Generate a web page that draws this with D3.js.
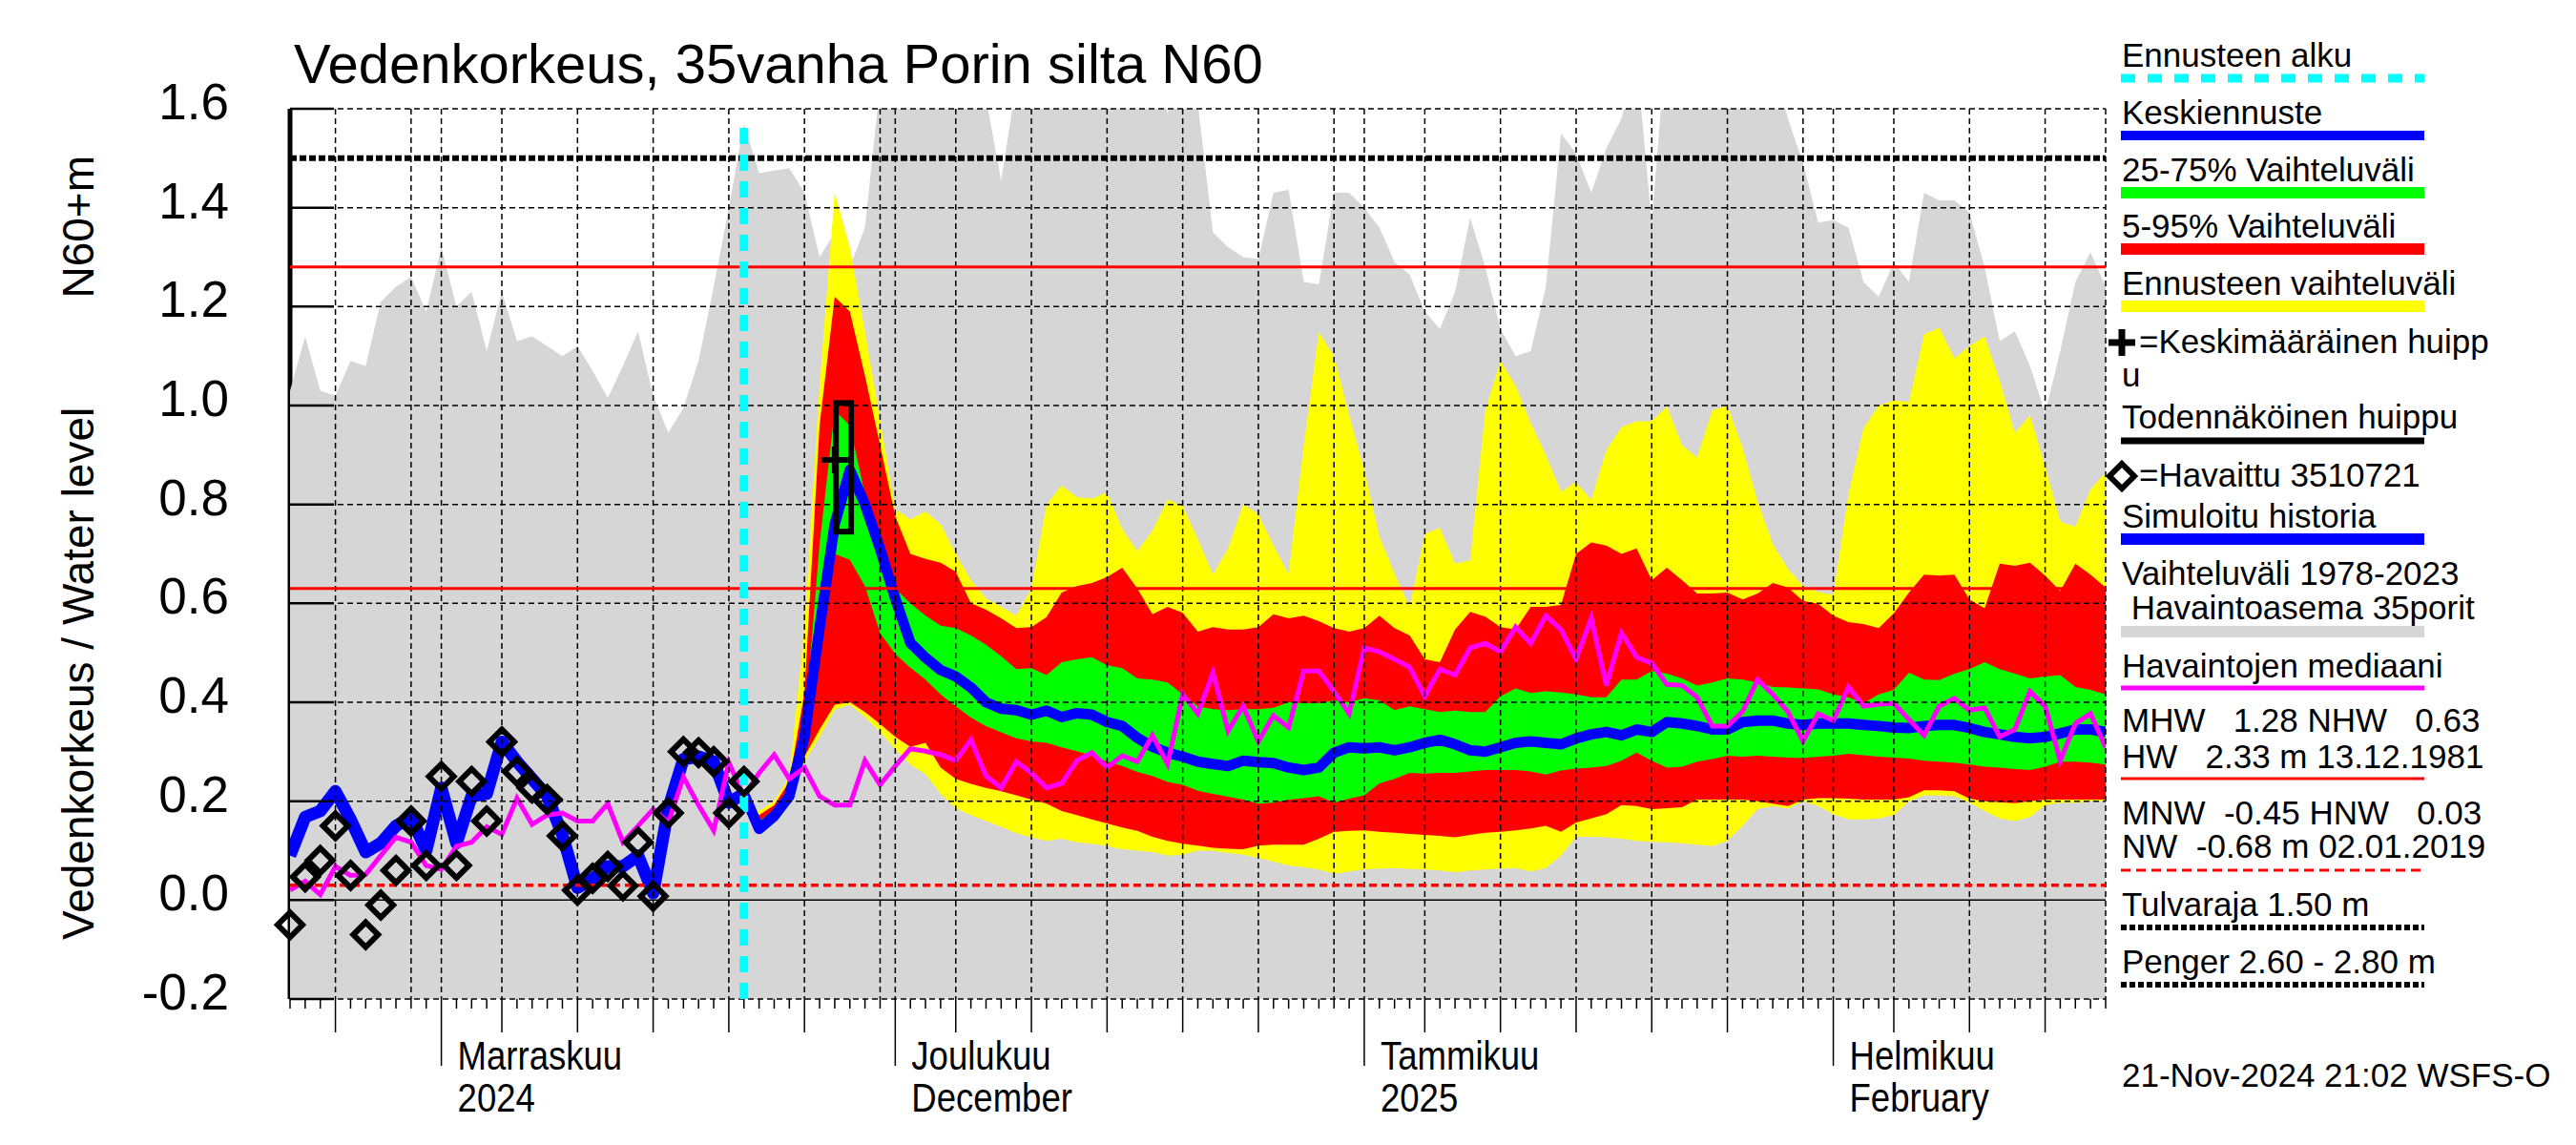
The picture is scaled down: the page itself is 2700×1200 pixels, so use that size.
<!DOCTYPE html>
<html>
<head>
<meta charset="utf-8">
<script src="https://cdn.jsdelivr.net/npm/d3@7"></script>
<style>
  body { margin: 0; background: #fff; }
  svg { display: block; }
  text { font-family: "Liberation Sans", Arial, Helvetica, sans-serif; fill: #000; }
</style>
</head>
<body>
<svg id="chart" width="2700" height="1200"></svg>
<script>
// time frame
const startDay = new Date(Date.UTC(2024, 9, 22));
const endDay = new Date(Date.UTC(2025, 1, 19));
const forecastStart = new Date(Date.UTC(2024, 10, 21));
const fcOffset = 30; // forecast series begin 30 days after startDay

// observed levels (diamonds), daily from startDay
const observed = [-0.05, 0.047, 0.08, 0.15, 0.05, -0.07, -0.01, 0.06, 0.16, 0.07,
  0.25, 0.07, 0.24, 0.16, 0.32, 0.26, 0.227, 0.203, 0.13, 0.02,
  0.044, 0.068, 0.029, 0.117, 0.008, 0.176, 0.30, 0.298, 0.28, 0.176,
  0.24];

// simulated history
const simulated = [0.09, 0.168, 0.18, 0.22, 0.163, 0.097, 0.115, 0.15, 0.168, 0.10,
  0.227, 0.115, 0.21, 0.215, 0.32, 0.28, 0.245, 0.21, 0.132, 0.025,
  0.043, 0.068, 0.068, 0.09, 0.014, 0.185, 0.285, 0.29, 0.28, 0.197,
  0.215];

// median of observations 1978-2023
const median = [0.02, 0.038, 0.011, 0.068, 0.05, 0.052, 0.09, 0.127, 0.117, 0.07,
  0.062, 0.109, 0.117, 0.148, 0.133, 0.206, 0.153, 0.172, 0.176, 0.16,
  0.16, 0.195, 0.117, 0.15, 0.184, 0.157, 0.249, 0.192, 0.141, 0.278,
  0.21, 0.257, 0.294, 0.245, 0.268, 0.21, 0.192, 0.192, 0.282, 0.233,
  0.271, 0.306, 0.301, 0.294, 0.282, 0.324, 0.251, 0.227, 0.28, 0.257,
  0.227, 0.236, 0.282, 0.298, 0.268, 0.292, 0.28, 0.333, 0.275, 0.416,
  0.377, 0.46, 0.342, 0.392, 0.321, 0.373, 0.349, 0.463, 0.463, 0.422,
  0.377, 0.51, 0.502, 0.487, 0.471, 0.412, 0.467, 0.455, 0.51, 0.519,
  0.502, 0.552, 0.519, 0.575, 0.547, 0.487, 0.57, 0.434, 0.54, 0.491,
  0.479, 0.436, 0.434, 0.41, 0.352, 0.352, 0.381, 0.446, 0.416, 0.381,
  0.321, 0.377, 0.363, 0.431, 0.392, 0.396, 0.398, 0.365, 0.333, 0.392,
  0.408, 0.384, 0.389, 0.33, 0.345, 0.422, 0.392, 0.282, 0.357, 0.377,
  0.309];

// historical maximum 1978-2023 (grey band top)
const histMax = [1.03, 1.14, 1.03, 1.02, 1.09, 1.08, 1.21, 1.24, 1.26, 1.19,
  1.32, 1.20, 1.23, 1.11, 1.23, 1.13, 1.14, 1.12, 1.10, 1.12,
  1.07, 1.015, 1.08, 1.15, 1.02, 0.945, 0.995, 1.09, 1.24, 1.40,
  1.57, 1.47, 1.475, 1.48, 1.43, 1.30, 1.35, 1.28, 1.36, 1.65,
  1.75, 1.75, 1.75, 1.75, 1.75, 1.75, 1.62, 1.455, 1.65, 1.75,
  1.75, 1.75, 1.75, 1.75, 1.75, 1.75, 1.75, 1.75, 1.59, 1.75,
  1.61, 1.35, 1.32, 1.30, 1.296, 1.43, 1.436, 1.25, 1.245, 1.43,
  1.43, 1.40, 1.36, 1.29, 1.265, 1.19, 1.155, 1.23, 1.38, 1.28,
  1.155, 1.10, 1.11, 1.24, 1.55, 1.51, 1.43, 1.52, 1.58, 1.70,
  1.37, 1.75, 1.75, 1.75, 1.75, 1.75, 1.75, 1.75, 1.70, 1.58,
  1.49, 1.37, 1.375, 1.36, 1.25, 1.22, 1.29, 1.25, 1.43, 1.415,
  1.415, 1.39, 1.28, 1.13, 1.15, 1.08, 0.985, 1.11, 1.25, 1.31,
  1.24];

// forecast, daily from forecastStart
const fcMean = [0.215, 0.144, 0.17, 0.21, 0.33, 0.55, 0.76, 0.87, 0.80, 0.71,
  0.61, 0.52, 0.49, 0.465, 0.452, 0.43, 0.40, 0.387, 0.384, 0.375,
  0.383, 0.37, 0.378, 0.375, 0.36, 0.352, 0.328, 0.31, 0.298, 0.29,
  0.28, 0.275, 0.271, 0.282, 0.279, 0.277, 0.268, 0.263, 0.268, 0.298,
  0.309, 0.307, 0.309, 0.303, 0.309, 0.318, 0.324, 0.315, 0.303, 0.30,
  0.309, 0.318, 0.321, 0.318, 0.315, 0.327, 0.335, 0.34, 0.333, 0.345,
  0.34, 0.36, 0.357, 0.352, 0.345, 0.345, 0.36, 0.363, 0.363, 0.357,
  0.354, 0.357, 0.357, 0.357, 0.354, 0.352, 0.349, 0.348, 0.352, 0.354,
  0.354, 0.348, 0.34, 0.335, 0.33, 0.327, 0.33, 0.337, 0.345, 0.345,
  0.34];

const fcMax = [0.21, 0.18, 0.2, 0.25, 0.55, 1.04, 1.43, 1.32, 1.15, 0.97,
  0.79, 0.77, 0.786, 0.76, 0.70, 0.647, 0.61, 0.593, 0.575, 0.63,
  0.80, 0.838, 0.815, 0.812, 0.824, 0.75, 0.706, 0.747, 0.81, 0.797,
  0.73, 0.658, 0.711, 0.80, 0.78, 0.717, 0.66, 0.92, 1.148, 1.10,
  0.98, 0.87, 0.735, 0.66, 0.593, 0.74, 0.753, 0.68, 0.687, 0.99,
  1.09, 1.04, 0.965, 0.90, 0.826, 0.845, 0.809, 0.91, 0.956, 0.968,
  0.968, 0.998, 0.92, 0.895, 0.99, 1.0, 0.915, 0.806, 0.72, 0.67,
  0.635, 0.623, 0.617, 0.82, 0.954, 1.0, 1.01, 1.007, 1.144, 1.157,
  1.095, 1.12, 1.14, 1.05, 0.944, 0.98, 0.877, 0.765, 0.755, 0.83,
  0.865];

const fcMin = [0.21, 0.135, 0.16, 0.2, 0.28, 0.33, 0.385, 0.395, 0.37, 0.34,
  0.305, 0.274, 0.255, 0.215, 0.186, 0.172, 0.16, 0.148, 0.135, 0.127,
  0.12, 0.124, 0.117, 0.114, 0.109, 0.103, 0.1, 0.097, 0.09, 0.092,
  0.1, 0.1, 0.095, 0.092, 0.085, 0.078, 0.07, 0.066, 0.062, 0.053,
  0.058, 0.062, 0.064, 0.065, 0.063, 0.062, 0.06, 0.056, 0.06, 0.062,
  0.064, 0.065, 0.058, 0.065, 0.09, 0.128, 0.128, 0.127, 0.124, 0.12,
  0.118, 0.117, 0.115, 0.112, 0.109, 0.12, 0.15, 0.184, 0.19, 0.185,
  0.2, 0.19, 0.174, 0.163, 0.163, 0.165, 0.172, 0.2, 0.212, 0.212,
  0.21, 0.197, 0.18, 0.165, 0.16, 0.168, 0.192, 0.197, 0.197, 0.2,
  0.2];

const fcP95 = [0.21, 0.172, 0.192, 0.24, 0.42, 0.96, 1.22, 1.19, 1.06, 0.92,
  0.776, 0.70, 0.69, 0.682, 0.664, 0.60, 0.587, 0.57, 0.55, 0.552,
  0.572, 0.622, 0.635, 0.641, 0.653, 0.672, 0.63, 0.578, 0.593, 0.581,
  0.543, 0.552, 0.547, 0.547, 0.552, 0.578, 0.57, 0.575, 0.564, 0.55,
  0.543, 0.55, 0.575, 0.55, 0.535, 0.487, 0.481, 0.547, 0.583, 0.573,
  0.552, 0.547, 0.593, 0.593, 0.597, 0.70, 0.723, 0.717, 0.70, 0.711,
  0.647, 0.672, 0.647, 0.62, 0.62, 0.622, 0.608, 0.62, 0.641, 0.632,
  0.605, 0.599, 0.575, 0.562, 0.558, 0.55, 0.58, 0.622, 0.658, 0.656,
  0.658, 0.608, 0.59, 0.68, 0.676, 0.682, 0.656, 0.625, 0.68, 0.658,
  0.632];

const fcP5 = [0.21, 0.138, 0.165, 0.205, 0.29, 0.345, 0.395, 0.40, 0.38, 0.356,
  0.33, 0.31, 0.318, 0.268, 0.245, 0.235, 0.227, 0.22, 0.212, 0.203,
  0.195, 0.18, 0.172, 0.163, 0.155, 0.147, 0.14, 0.128, 0.12, 0.114,
  0.11, 0.106, 0.104, 0.103, 0.11, 0.112, 0.112, 0.112, 0.124, 0.138,
  0.14, 0.141, 0.138, 0.136, 0.134, 0.132, 0.13, 0.127, 0.132, 0.136,
  0.138, 0.141, 0.145, 0.15, 0.138, 0.157, 0.165, 0.174, 0.192, 0.19,
  0.184, 0.186, 0.188, 0.203, 0.203, 0.203, 0.203, 0.2, 0.195, 0.19,
  0.203, 0.206, 0.206, 0.205, 0.203, 0.203, 0.203, 0.208, 0.222, 0.222,
  0.22, 0.205, 0.2, 0.198, 0.196, 0.2, 0.203, 0.203, 0.203, 0.203,
  0.203];

const fcP75 = [0.21, 0.16, 0.182, 0.228, 0.35, 0.72, 0.99, 0.96, 0.82, 0.72,
  0.63, 0.60, 0.575, 0.555, 0.55, 0.535, 0.516, 0.493, 0.467, 0.469,
  0.455, 0.481, 0.487, 0.491, 0.475, 0.469, 0.448, 0.446, 0.44, 0.416,
  0.392, 0.386, 0.384, 0.386, 0.386, 0.389, 0.40, 0.398, 0.398, 0.404,
  0.40, 0.408, 0.404, 0.384, 0.392, 0.386, 0.38, 0.383, 0.38, 0.38,
  0.412, 0.428, 0.419, 0.422, 0.42, 0.416, 0.41, 0.41, 0.446, 0.446,
  0.463, 0.458, 0.448, 0.434, 0.44, 0.448, 0.446, 0.44, 0.431, 0.43,
  0.428, 0.426, 0.416, 0.41, 0.398, 0.416, 0.425, 0.46, 0.446, 0.445,
  0.458, 0.467, 0.481, 0.467, 0.458, 0.448, 0.452, 0.455, 0.431, 0.425,
  0.416];

const fcP25 = [0.21, 0.142, 0.168, 0.21, 0.31, 0.5, 0.7, 0.688, 0.635, 0.54,
  0.498, 0.47, 0.446, 0.416, 0.392, 0.369, 0.352, 0.339, 0.327, 0.321,
  0.318, 0.309, 0.301, 0.292, 0.28, 0.271, 0.259, 0.251, 0.239, 0.233,
  0.221, 0.215, 0.209, 0.203, 0.195, 0.197, 0.203, 0.206, 0.21, 0.197,
  0.205, 0.212, 0.236, 0.245, 0.257, 0.256, 0.257, 0.257, 0.26, 0.263,
  0.263, 0.263, 0.26, 0.254, 0.262, 0.266, 0.268, 0.271, 0.282, 0.298,
  0.282, 0.268, 0.27, 0.28, 0.285, 0.292, 0.29, 0.292, 0.29, 0.288,
  0.287, 0.29, 0.292, 0.296, 0.293, 0.29, 0.288, 0.286, 0.282, 0.28,
  0.278, 0.274, 0.27, 0.268, 0.265, 0.263, 0.27, 0.28, 0.28, 0.278,
  0.274];

// probable peak (box) and mean peak (cross)
const peakBox = { from: new Date(Date.UTC(2024, 10, 27, 2)), to: new Date(Date.UTC(2024, 10, 28, 2)), low: 0.745, high: 1.005 };
const meanPeak = { date: new Date(Date.UTC(2024, 10, 27)), value: 0.89 };

// reference levels
const levelMHW = 1.28, levelNHW = 0.63, levelHNW = 0.03, levelFlood = 1.5;
const cyanTop = 1.575;

// axis labels
const yTicks = [-0.2, 0.0, 0.2, 0.4, 0.6, 0.8, 1.0, 1.2, 1.4, 1.6];
const monthStarts = [new Date(Date.UTC(2024, 10, 1)), new Date(Date.UTC(2024, 11, 1)),
  new Date(Date.UTC(2025, 0, 1)), new Date(Date.UTC(2025, 1, 1))];
const monthNames = ["Marraskuu", "Joulukuu", "Tammikuu", "Helmikuu"];
const monthSub = ["2024", "December", "2025", "February"];

function draw() {
  const left = 304, right = 2207, top = 114, bottom = 1047;
  const svg = d3.select("#chart");

  const x = d3.scaleUtc().domain([startDay, endDay]).range([left, right]);
  const y = d3.scaleLinear().domain([-0.2, 1.6]).range([bottom, top]);
  const day = i => d3.utcDay.offset(startDay, i);

  svg.append("defs").append("clipPath").attr("id", "plot")
    .append("rect").attr("x", left).attr("y", top)
    .attr("width", right - left).attr("height", bottom - top);

  const hist = median.map((v, i) => ({ date: day(i), median: v, max: histMax[i] }));
  const past = observed.map((v, i) => ({ date: day(i), obs: v, sim: simulated[i] }));
  const fc = fcMean.map((v, i) => ({
    date: day(fcOffset + i), mean: v, min: fcMin[i], max: fcMax[i],
    p5: fcP5[i], p95: fcP95[i], p25: fcP25[i], p75: fcP75[i]
  }));

  // left axis line, partly covered by the grey band
  svg.append("line").attr("x1", left).attr("x2", left).attr("y1", top).attr("y2", bottom)
    .attr("stroke", "#000").attr("stroke-width", 5);

  const g = svg.append("g").attr("clip-path", "url(#plot)");

  // historical range
  g.append("path").datum(hist)
    .attr("fill", "#d6d6d6")
    .attr("d", d3.area().x(d => x(d.date)).y0(y(-0.2)).y1(d => y(d.max)));

  // forecast bands
  const band = (lo, hi, color) => g.append("path").datum(fc).attr("fill", color)
    .attr("d", d3.area().x(d => x(d.date)).y0(d => y(d[lo])).y1(d => y(d[hi])));
  band("min", "max", "#ffff00");
  band("p5", "p95", "#ff0000");
  band("p25", "p75", "#00ff00");

  // grid
  const gridDays = d3.utcDay.range(day(1), endDay)
    .filter(d => d.getUTCDate() === 1 || d.getUTCDate() % 5 === 0);
  gridDays.push(endDay);
  svg.append("g").selectAll("line").data(gridDays).join("line")
    .attr("x1", d => x(d)).attr("x2", d => x(d)).attr("y1", top).attr("y2", bottom)
    .attr("stroke", "#000").attr("stroke-width", 1.5).attr("stroke-dasharray", "6,4");
  svg.append("g").selectAll("line").data(yTicks).join("line")
    .attr("x1", left).attr("x2", right).attr("y1", d => y(d)).attr("y2", d => y(d))
    .attr("stroke", "#000").attr("stroke-width", 1.5)
    .attr("stroke-dasharray", d => d === 0 ? null : "6,4");
  // inward y ticks
  svg.append("g").selectAll("line").data(yTicks).join("line")
    .attr("x1", left).attr("x2", left + 46).attr("y1", d => y(d)).attr("y2", d => y(d))
    .attr("stroke", "#000").attr("stroke-width", 2.5);

  // reference levels
  const hline = (v, color, w, dash) => svg.append("line")
    .attr("x1", left).attr("x2", right).attr("y1", y(v)).attr("y2", y(v))
    .attr("stroke", color).attr("stroke-width", w).attr("stroke-dasharray", dash);
  hline(levelMHW, "#ff0000", 3, null);
  hline(levelNHW, "#ff0000", 3, null);
  hline(levelHNW, "#ff0000", 3.5, "8,5");
  hline(levelFlood, "#000", 6, "7,3");

  // blue lines
  g.append("path").datum(past)
    .attr("fill", "none").attr("stroke", "#0000ff").attr("stroke-width", 13).attr("stroke-linejoin", "round")
    .attr("d", d3.line().x(d => x(d.date)).y(d => y(d.sim)));
  g.append("path").datum(fc)
    .attr("fill", "none").attr("stroke", "#0000ff").attr("stroke-width", 11).attr("stroke-linejoin", "round")
    .attr("d", d3.line().x(d => x(d.date)).y(d => y(d.mean)));

  // median of observations
  g.append("path").datum(hist)
    .attr("fill", "none").attr("stroke", "#ff00ff").attr("stroke-width", 5)
    .attr("d", d3.line().x(d => x(d.date)).y(d => y(d.median)));

  // forecast start
  svg.append("line")
    .attr("x1", x(forecastStart)).attr("x2", x(forecastStart))
    .attr("y1", y(-0.2)).attr("y2", y(cyanTop))
    .attr("stroke", "#00ffff").attr("stroke-width", 9).attr("stroke-dasharray", "17,11");

  // observations
  const dm = 13;
  const diamond = (cx, cy) => `M${cx},${cy - dm}L${cx + dm},${cy}L${cx},${cy + dm}L${cx - dm},${cy}Z`;
  svg.append("g").selectAll("path").data(past).join("path")
    .attr("d", d => diamond(x(d.date), y(d.obs)))
    .attr("fill", "none").attr("stroke", "#000").attr("stroke-width", 6);

  // peak markers
  svg.append("rect")
    .attr("x", x(peakBox.from)).attr("y", y(peakBox.high))
    .attr("width", x(peakBox.to) - x(peakBox.from)).attr("height", y(peakBox.low) - y(peakBox.high))
    .attr("fill", "none").attr("stroke", "#000").attr("stroke-width", 6);
  const px = x(meanPeak.date), py = y(meanPeak.value);
  svg.append("path").attr("d", `M${px - 14},${py}H${px + 14}M${px},${py - 14}V${py + 14}`)
    .attr("stroke", "#000").attr("stroke-width", 6);

  // x ticks
  const allDays = d3.utcDay.range(startDay, d3.utcDay.offset(endDay, 1));
  const tickLen = d => d.getUTCDate() === 1 ? 70 : [5, 10, 15, 20, 25].includes(d.getUTCDate()) ? 35 : 10;
  svg.append("g").selectAll("line").data(allDays).join("line")
    .attr("x1", d => x(d)).attr("x2", d => x(d))
    .attr("y1", bottom).attr("y2", d => bottom + tickLen(d))
    .attr("stroke", "#000").attr("stroke-width", 1.5);

  // month labels, narrow lettering
  const ml = svg.append("g").attr("font-size", 43).selectAll("g").data(monthStarts).join("g")
    .attr("transform", d => `translate(${x(d) + 17},0) scale(0.85,1)`);
  ml.append("text").attr("y", 1121).text((d, i) => monthNames[i]);
  ml.append("text").attr("y", 1165).text((d, i) => monthSub[i]);

  // y tick labels
  svg.append("g").selectAll("text").data(yTicks).join("text")
    .attr("x", 240).attr("y", d => y(d) + 11)
    .attr("text-anchor", "end").attr("font-size", 53)
    .text(d => d.toFixed(1));

  // y axis title
  svg.append("text").attr("transform", "translate(98,985) rotate(-90)")
    .attr("font-size", 46).text("Vedenkorkeus / Water level");
  svg.append("text").attr("transform", "translate(98,163) rotate(-90)")
    .attr("font-size", 46).attr("text-anchor", "end").text("N60+m");

  // title
  svg.append("text").attr("x", 308).attr("y", 87).attr("font-size", 58)
    .text("Vedenkorkeus, 35vanha Porin silta N60");

  // legend
  const lx = 2224, l1 = 2223, l2 = 2541;
  const lg = svg.append("g").attr("font-size", 35);
  const ltext = (t, yy, xx) => lg.append("text").attr("xml:space", "preserve")
    .attr("x", xx || lx).attr("y", yy).text(t);
  const lline = (yy, color, w, dash) => lg.append("line").attr("x1", l1).attr("x2", l2)
    .attr("y1", yy).attr("y2", yy).attr("stroke", color).attr("stroke-width", w)
    .attr("stroke-dasharray", dash);

  ltext("Ennusteen alku", 70); lline(82, "#00ffff", 9, "15,13");
  ltext("Keskiennuste", 130); lline(142, "#0000ff", 10, null);
  ltext("25-75% Vaihteluväli", 190); lline(202, "#00ff00", 12, null);
  ltext("5-95% Vaihteluväli", 249); lline(261, "#ff0000", 12, null);
  ltext("Ennusteen vaihteluväli", 309); lline(321, "#ffff00", 12, null);
  lg.append("path").attr("d", "M2210,359H2238M2224,345V373").attr("stroke", "#000").attr("stroke-width", 7);
  ltext("=Keskimääräinen huipp", 370, 2242);
  ltext("u", 405);
  ltext("Todennäköinen huippu", 449); lline(462, "#000", 7, null);
  lg.append("path").attr("d", diamond(2224, 499)).attr("fill", "none").attr("stroke", "#000").attr("stroke-width", 6);
  ltext("=Havaittu 3510721", 510, 2242);
  ltext("Simuloitu historia", 553); lline(565, "#0000ff", 12, null);
  ltext("Vaihteluväli 1978-2023", 613);
  ltext(" Havaintoasema 35porit", 649); lline(662, "#d6d6d6", 12, null);
  ltext("Havaintojen mediaani", 710); lline(721, "#ff00ff", 5, null);
  ltext("MHW   1.28 NHW   0.63", 767);
  ltext("HW   2.33 m 13.12.1981", 805); lline(816, "#ff0000", 3, null);
  ltext("MNW  -0.45 HNW   0.03", 864);
  ltext("NW  -0.68 m 02.01.2019", 899); lline(912, "#ff0000", 3, "10,6");
  ltext("Tulvaraja 1.50 m", 960); lline(972, "#000", 6, "6,3");
  ltext("Penger 2.60 - 2.80 m", 1020); lline(1032, "#000", 6, "6,3");
  ltext("21-Nov-2024 21:02 WSFS-O", 1139);
}
draw();
</script>
</body>
</html>
